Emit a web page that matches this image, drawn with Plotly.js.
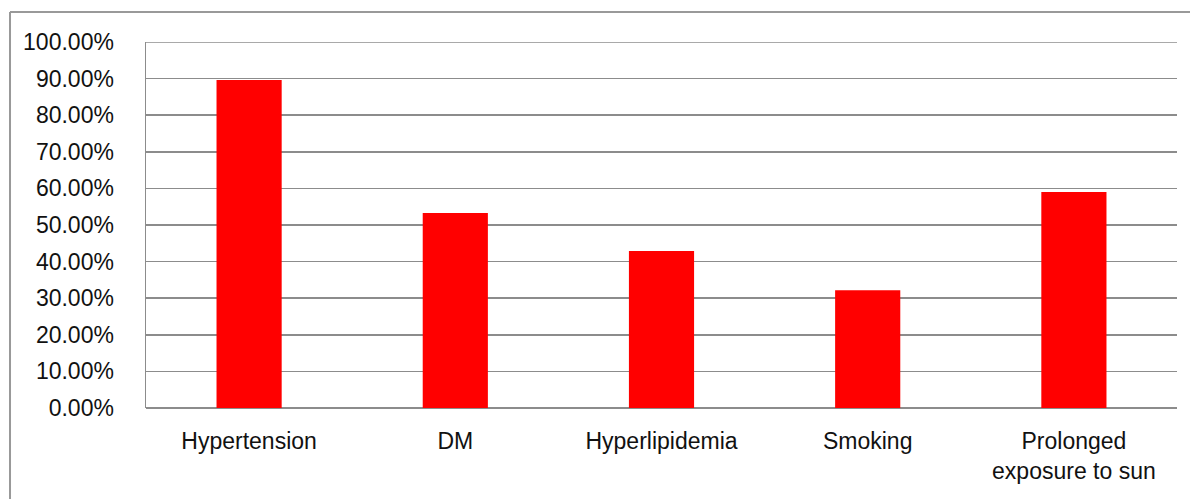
<!DOCTYPE html>
<html>
<head>
<meta charset="utf-8">
<script src="https://cdn.plot.ly/plotly-3.0.1.min.js"></script>
<style>
html,body{margin:0;padding:0;background:#fff;}
#chart{width:1190px;height:499px;}
</style>
</head>
<body>
<div id="chart"></div>
<script>
const categories = ["Hypertension", "DM", "Hyperlipidemia", "Smoking", "Prolonged<br>exposure to sun"];
const values = [0.896, 0.533, 0.429, 0.322, 0.590];
const yTickValues = [0, 0.1, 0.2, 0.3, 0.4, 0.5, 0.6, 0.7, 0.8, 0.9, 1.0];

const trace = {
  type: "bar",
  x: categories,
  y: values,
  width: categories.map(() => 0.316),
  marker: {color: "#ff0000", line: {width: 0}},
  hoverinfo: "x+y"
};

const layout = {
  width: 1190,
  height: 499,
  margin: {l: 146, r: 13, t: 42, b: 91, pad: 0},
  paper_bgcolor: "#ffffff",
  plot_bgcolor: "#ffffff",
  showlegend: false,
  font: {family: "Liberation Sans, Arial, sans-serif", size: 23, color: "#111111"},
  xaxis: {
    type: "category",
    showgrid: false,
    showline: false,
    ticks: "",
    ticklabelstandoff: 17,
    tickfont: {family: "Liberation Sans, Arial, sans-serif", size: 23, color: "#111111"},
    fixedrange: true
  },
  yaxis: {
    range: [0, 1],
    tickvals: yTickValues,
    tickformat: ".2%",
    showgrid: true,
    gridcolor: "#8c8c8c",
    gridwidth: 1.5,
    zeroline: true,
    zerolinecolor: "#8c8c8c",
    zerolinewidth: 1.5,
    showline: true,
    linecolor: "#8c8c8c",
    linewidth: 1.5,
    ticks: "",
    ticklabelstandoff: 26,
    tickfont: {family: "Liberation Sans, Arial, sans-serif", size: 23, color: "#111111"},
    fixedrange: true
  },
  shapes: [
    {type: "line", xref: "paper", yref: "y", x0: 0, x1: 1, y0: 1, y1: 1,
     line: {color: "#8c8c8c", width: 1.5}},
    {type: "line", xref: "paper", yref: "paper", x0: -0.1319, x1: 1.2, y0: 1.082, y1: 1.082,
     line: {color: "#999999", width: 2}},
    {type: "line", xref: "paper", yref: "paper", x0: -0.1319, x1: -0.1319, y0: 1.082, y1: -0.5,
     line: {color: "#999999", width: 2}}
  ]
};

Plotly.newPlot("chart", [trace], layout, {displayModeBar: false, staticPlot: true});
</script>
</body>
</html>
